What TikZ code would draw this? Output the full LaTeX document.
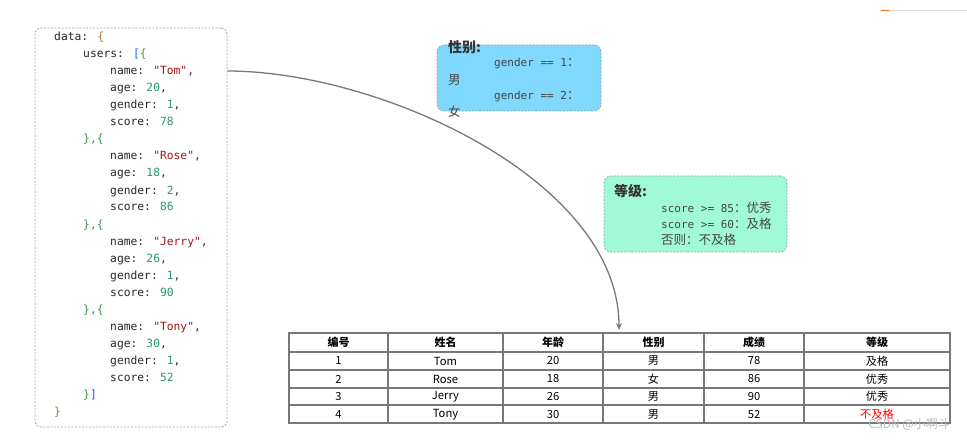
\documentclass[tikz,border=0pt]{standalone}
\usepackage{fontspec}
\setmainfont{Liberation Sans}
\newfontfamily\cjk{Noto Sans CJK SC}
\newfontfamily\jmono{DejaVu Sans Mono}
\usetikzlibrary{arrows.meta}
\definecolor{jkey}{RGB}{40,40,40}
\definecolor{jstr}{RGB}{163,21,21}
\definecolor{jnum}{RGB}{38,150,120}
\definecolor{jbrA}{RGB}{180,120,40}
\definecolor{jbrB}{RGB}{30,90,255}
\definecolor{jbrC}{RGB}{60,150,80}
\definecolor{gblue}{RGB}{128,217,253}
\definecolor{ggreen}{RGB}{160,250,215}
\definecolor{boxtxt}{RGB}{70,70,70}
\definecolor{tline}{RGB}{120,120,120}
\newcommand{\js}[1]{\textcolor{jstr}{#1}}
\newcommand{\jn}[1]{\textcolor{jnum}{#1}}
\newcommand{\bc}[1]{{\cjk\fontsize{12.5}{14}\selectfont #1}}
\begin{document}
\begin{tikzpicture}[x=1pt,y=-1pt,
  jl/.style={anchor=base west, inner sep=0, text=jkey, font=\jmono\fontsize{11.3}{13}\selectfont},
  dbox/.style={draw=gray!75, dash pattern=on 2pt off 1.5pt, line width=0.7pt, inner sep=0},
  btitle/.style={anchor=west, inner sep=0, text=black!80, font=\cjk\bfseries\fontsize{14}{16}\selectfont},
  btext/.style={anchor=west, inner sep=0, text=boxtxt, font=\jmono\fontsize{11}{12}\selectfont},
  bcjk/.style={anchor=west, inner sep=0, text=boxtxt, font=\cjk\fontsize{12.5}{14}\selectfont},
  cell/.style={inner sep=0, text=black, font=\cjk\fontsize{11.2}{12}\selectfont},
  hcell/.style={cell, font=\cjk\bfseries\fontsize{11}{12}\selectfont},
  arr/.style={draw=gray!95!black, line width=1.3pt, -{Stealth[length=7pt,width=6pt]}}
]
\useasboundingbox (0,0) rectangle (967,441);
\fill[white] (0,0) rectangle (967,441);

% top-right fragment
\draw[draw=gray!25, line width=1pt] (881,11) -- (967,11);
\draw[draw=orange!80!red, line width=1pt] (881,11) -- (889,11);

% JSON box
\node[dbox, rounded corners=6pt, minimum width=192pt, minimum height=399pt] (json) at (131,227.5) {};
\node[jl] (l1) at (54,41) {data: \textcolor{jbrA}{\{}};
\node[jl] (l2) at (83,58) {users: \textcolor{jbrB}{[}\textcolor{jbrC}{\{}};
\node[jl] (l3) at (110,75) {name: \js{"Tom"},};
\node[jl] (l4) at (110,92) {age: \jn{20},};
\node[jl] (l5) at (110,109) {gender: \jn{1},};
\node[jl] (l6) at (110,126) {score: \jn{78}};
\node[jl] (l7) at (83,143) {\textcolor{jbrC}{\},\{}};
\node[jl] (l8) at (110,160) {name: \js{"Rose"},};
\node[jl] (l9) at (110,177) {age: \jn{18},};
\node[jl] (l10) at (110,194) {gender: \jn{2},};
\node[jl] (l11) at (110,211) {score: \jn{86}};
\node[jl] (l12) at (83,228) {\textcolor{jbrC}{\},\{}};
\node[jl] (l13) at (110,245) {name: \js{"Jerry"},};
\node[jl] (l14) at (110,262) {age: \jn{26},};
\node[jl] (l15) at (110,279) {gender: \jn{1},};
\node[jl] (l16) at (110,296) {score: \jn{90}};
\node[jl] (l17) at (83,313) {\textcolor{jbrC}{\},\{}};
\node[jl] (l18) at (110,330) {name: \js{"Tony"},};
\node[jl] (l19) at (110,347) {age: \jn{30},};
\node[jl] (l20) at (110,364) {gender: \jn{1},};
\node[jl] (l21) at (110,381) {score: \jn{52}};
\node[jl] (l22) at (83,398) {\textcolor{jbrC}{\}}\textcolor{jbrB}{]}};
\node[jl] (l23) at (54,415) {\textcolor{jbrA}{\}}};

% gender box
\node[dbox, fill=gblue, rounded corners=7pt, minimum width=164pt, minimum height=66pt] (gbox) at (519,78) {};
\node[btitle] (gt) at (448,47) {性别:};
\node[btext] (g1) at (494,64) {gender == 1\bc{：}};
\node[bcjk] (g1v) at (448,80) {男};
\node[btext] (g2) at (494,97) {gender == 2\bc{：}};
\node[bcjk] (g2v) at (448,112) {女};

% grade box
\node[dbox, fill=ggreen, rounded corners=7pt, minimum width=183pt, minimum height=76pt] (sbox) at (695.5,214) {};
\node[btitle] (st) at (614,191) {等级:};
\node[btext] (s1) at (661,208) {score >= 85\bc{：优秀}};
\node[btext] (s2) at (661,224) {score >= 60\bc{：及格}};
\node[bcjk] (s3) at (661,240) {否则：不及格};

% table
\coordinate (tl) at (289,333);
\coordinate (br) at (950,423);
\draw[draw=tline, line width=1.2pt] (tl) rectangle (br);
\foreach \x in {388,503,603,704,804} \draw[draw=tline, line width=1.2pt] (\x,333) -- (\x,423);
\foreach \y in {352,370,388,405} \draw[draw=tline, line width=1.2pt] (289,\y) -- (950,\y);
\node[hcell] (h1) at (338.5,342.5) {编号};
\node[hcell] (h2) at (445.5,342.5) {姓名};
\node[hcell] (h3) at (553,342.5) {年龄};
\node[hcell] (h4) at (653.5,342.5) {性别};
\node[hcell] (h5) at (754,342.5) {成绩};
\node[hcell] (h6) at (877,342.5) {等级};
\foreach \n/\y/\a/\b/\c/\d/\e/\f/\col in {1/361/1/Tom/20/男/78/及格/black, 2/379/2/Rose/18/女/86/优秀/black, 3/396.5/3/Jerry/26/男/90/优秀/black, 4/414.5/4/Tony/30/男/52/不及格/red}{
  \node[cell] (r\n-1) at (338.5,\y) {\a};
  \node[cell] (r\n-2) at (445.5,\y) {\b};
  \node[cell] (r\n-3) at (553,\y) {\c};
  \node[cell] (r\n-4) at (653.5,\y) {\d};
  \node[cell] (r\n-5) at (754,\y) {\e};
  \node[cell, text=\col] (r\n-6) at (877,\y) {\f};
}

% watermark
\node[inner sep=0, anchor=east, text=gray!55, font=\cjk\fontsize{12}{14}\selectfont] (wm) at (950,425) {CSDN @小啊斗};

% arrow
\coordinate (as) at (json.east |- 0,71);
\coordinate (ae) at (619,330);
\draw[arr] (as) .. controls (380,71) and (619,180) .. (ae);
\end{tikzpicture}
\end{document}
